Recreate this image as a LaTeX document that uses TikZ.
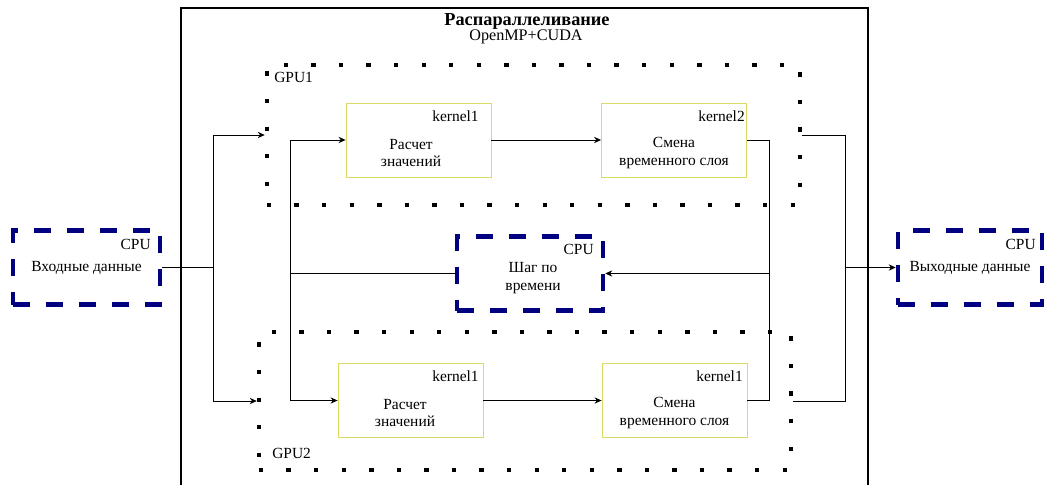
\documentclass[tikz,border=0pt]{standalone}
\usepackage{fontspec}
\setmainfont{Liberation Serif}
\usepackage{tikz}
\usetikzlibrary{arrows.meta}

\begin{document}
\begin{tikzpicture}[x=0.025cm, y=-0.025cm,
  every node/.style={font=\fontsize{11}{12.5}\selectfont, inner sep=0},
  cpubox/.style={draw={rgb,255:red,0;green,0;blue,128}, line width=3.2pt, dash pattern=on 12pt off 11.5pt, minimum width=3.65cm, minimum height=1.85cm, align=center},
  kbox/.style={draw={rgb,255:red,218;green,218;blue,100}, line width=0.6pt, minimum width=3.625cm, minimum height=1.85cm},
  gpubox/.style={draw, line width=3.1pt, dash pattern=on 3.1pt off 16.5pt},
  arr/.style={-{Stealth[length=5pt, width=4.5pt]}},
  conn/.style={line width=0.6pt}]
\useasboundingbox (0,0) rectangle (1045,485);
\draw[line width=1pt] (181,490) -- (181,8) -- (868,8) -- (868,490);
\node[font=\fontsize{13}{15}\selectfont\bfseries] (title) at (527,21) {Распараллеливание};
\node[font=\fontsize{11.5}{13}\selectfont] (tech) at (526,37) {OpenMP+CUDA};
%% GPU groups
\node[gpubox, minimum width=13.325cm, minimum height=3.5cm] (gpu1) at (533.5,135) {};
\node[gpubox, minimum width=13.3cm, minimum height=3.45cm] (gpu2) at (525,401) {};
\node[anchor=west] (g1) at (274,77) {GPU1};
\node[anchor=west] (g2) at (272,453) {GPU2};
%% CPU blocks
\node[cpubox, minimum width=3.675cm] (in) at (86.5,267.5) {Входные данные};
\node[anchor=north east] (c1) at (151,239) {CPU};
\node[cpubox] (step) at (530,273.5) {};
\node[align=center] (ts) at (533,278) {Шаг по\\времени};
\node[anchor=north east] (c2) at (594,244) {CPU};
\node[cpubox, minimum width=3.6cm] (out) at (970,267.5) {Выходные данные};
\node[anchor=north east] (c3) at (1036,239) {CPU};
%% kernels
\node[kbox] (k11) at (418.5,140) {};
\node[align=center] (t11) at (411,153) {Расчет\\значений};
\node[anchor=north east] (n11) at (479,110) {kernel1};
\node[kbox] (k12) at (674,140) {};
\node[align=center] (t12) at (674,153) {Смена\\временного слоя};
\node[anchor=north east] (n12) at (745,110) {kernel2};
\node[kbox] (k21) at (410.5,400.5) {};
\node[align=center] (t21) at (405,413) {Расчет\\значений};
\node[anchor=north east] (n21) at (479,370) {kernel1};
\node[kbox] (k22) at (674.5,400.5) {};
\node[align=center] (t22) at (674.5,413) {Смена\\временного слоя};
\node[anchor=north east] (n22) at (743,370) {kernel1};
\coordinate (jl) at (213,267.5);
\coordinate (ji) at (290,273.5);
\coordinate (jr) at (769,273.5);
\coordinate (jo) at (845,267.5);
\draw[conn] (in) -- (jl);
\draw[conn, arr] (jl) |- (gpu1.west);
\draw[conn, arr] (jl) |- (gpu2.west);
\draw[conn] (step) -- (ji);
\draw[conn, arr] (ji) |- (k11.west);
\draw[conn, arr] (ji) |- (k21.west);
\draw[conn, arr] (k11) -- (k12);
\draw[conn, arr] (k21) -- (k22);
\draw[conn] (k12.east) -| (jr);
\draw[conn] (k22.east) -| (jr);
\draw[conn, arr] (jr) -- (step.east);
\draw[conn] (gpu1.east) -| (jo);
\draw[conn] (gpu2.east) -| (jo);
\draw[conn, arr] (jo) -- (out.west);
\end{tikzpicture}
\end{document}
